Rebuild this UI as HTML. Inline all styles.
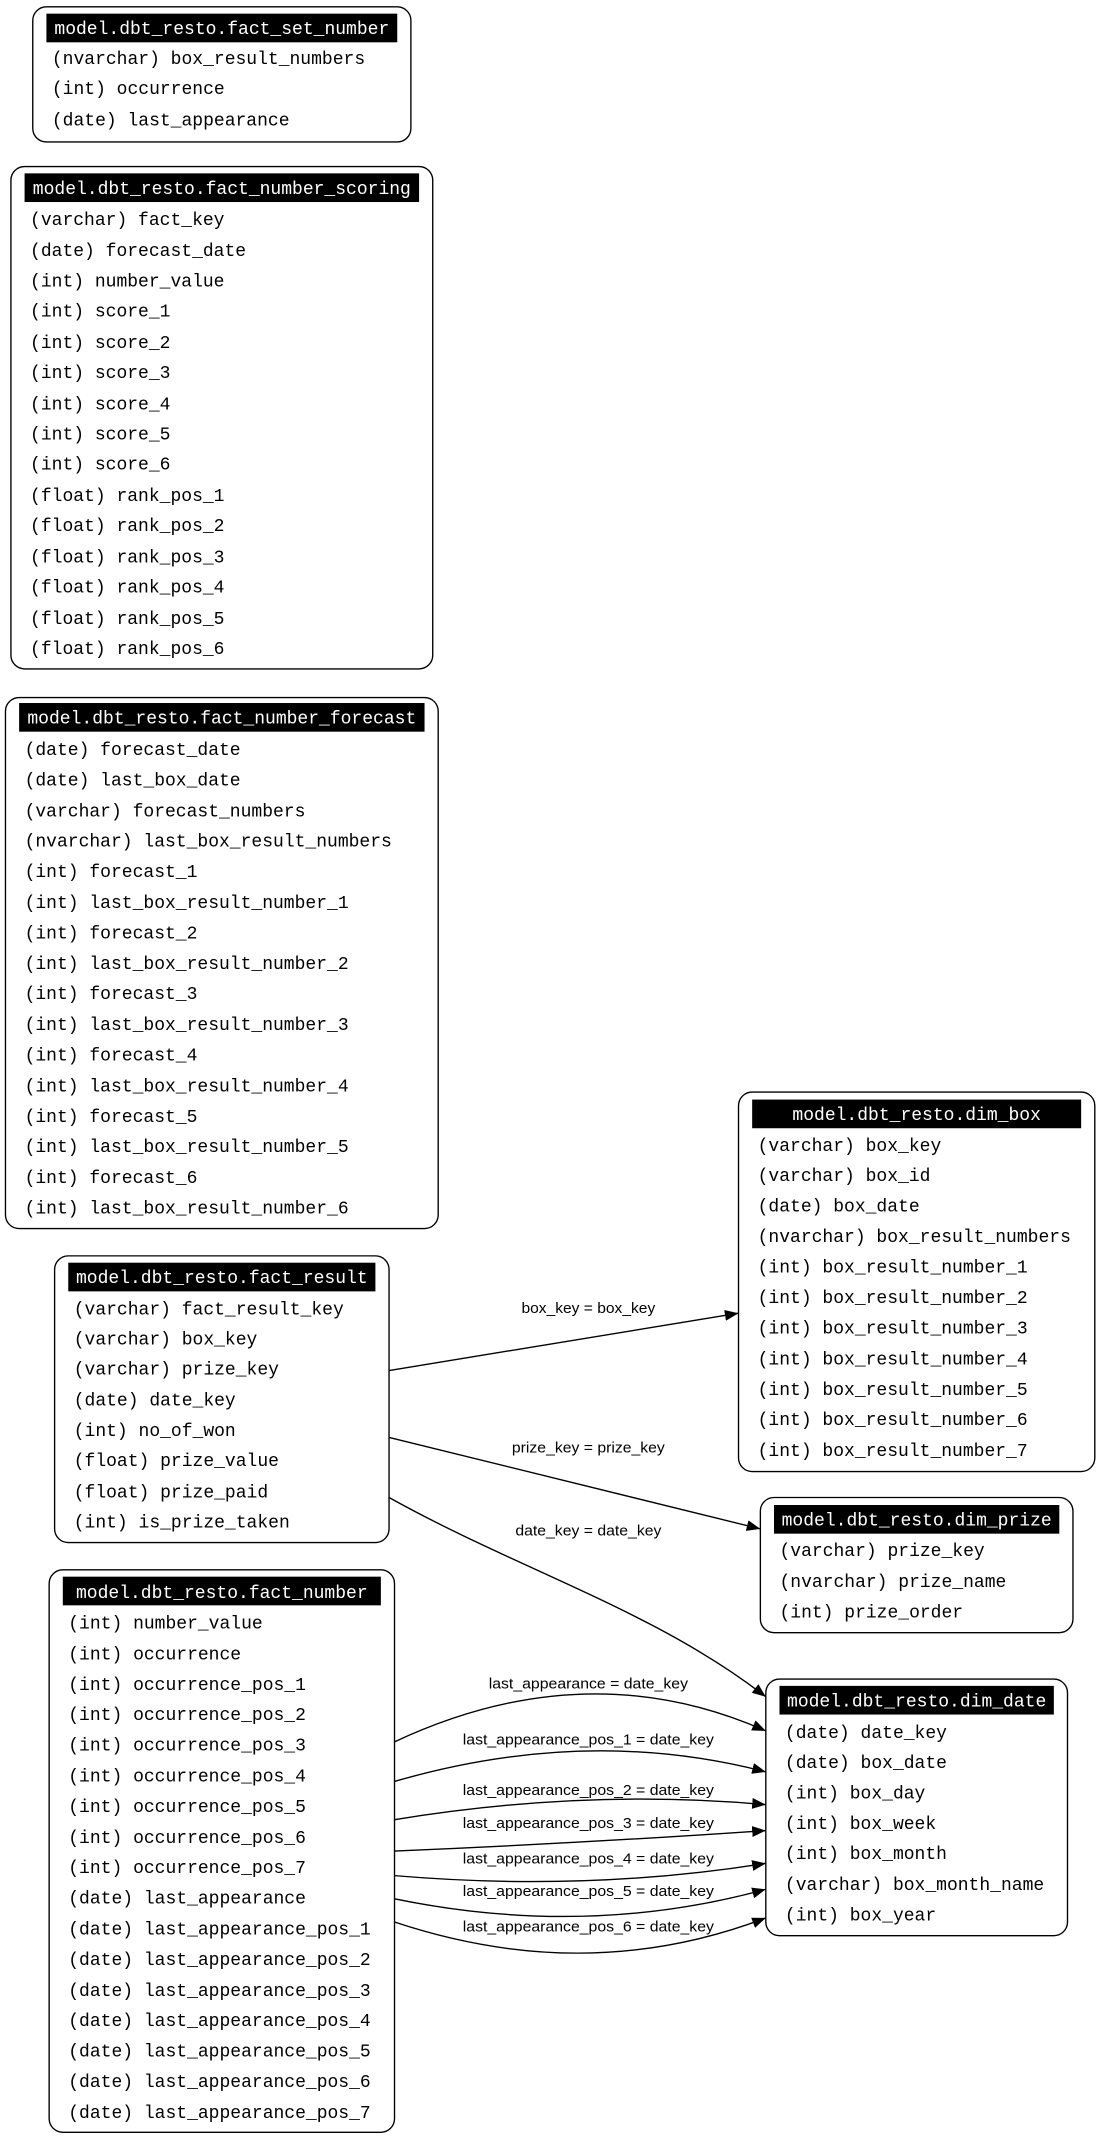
<!DOCTYPE html>
<html><head><meta charset="utf-8"><style>
html,body{margin:0;padding:0;background:#fff;}
svg{display:block;}
.f{font-family:"Liberation Mono",monospace;font-size:13.2px;fill:#000;}
.h{font-family:"Liberation Mono",monospace;font-size:13.2px;fill:#fff;text-anchor:middle;}
.l{font-family:"Liberation Sans",sans-serif;font-size:10.5px;fill:#000;text-anchor:middle;}
.b{fill:#fff;stroke:#000;stroke-width:1;}
.e{fill:none;stroke:#000;stroke-width:1;marker-end:url(#a);}
</style></head><body>
<svg width="1103" height="2144" viewBox="0 0 808 1570.6" xmlns="http://www.w3.org/2000/svg">
<defs><marker id="a" markerWidth="10" markerHeight="8" refX="10" refY="4" orient="auto" markerUnits="userSpaceOnUse"><path d="M0,0 L10,4 L0,8 Z" fill="#000"/></marker></defs>

<!-- fact_set_number -->
<rect class="b" x="24" y="5" width="277" height="99" rx="10"/>
<rect x="34" y="10" width="257" height="21" fill="#000"/>
<text class="h" x="162.5" y="25">model.dbt_resto.fact_set_number</text>
<text class="f" x="38" y="47">(nvarchar) box_result_numbers</text>
<text class="f" x="38" y="69">(int) occurrence</text>
<text class="f" x="38" y="92">(date) last_appearance</text>

<!-- fact_number_scoring -->
<rect class="b" x="8" y="122" width="309" height="368" rx="10"/>
<rect x="18" y="127" width="289" height="21" fill="#000"/>
<text class="h" x="162.5" y="142">model.dbt_resto.fact_number_scoring</text>
<text class="f" x="22" y="165">(varchar) fact_key</text>
<text class="f" x="22" y="187.5">(date) forecast_date</text>
<text class="f" x="22" y="210">(int) number_value</text>
<text class="f" x="22" y="232">(int) score_1</text>
<text class="f" x="22" y="255">(int) score_2</text>
<text class="f" x="22" y="277">(int) score_3</text>
<text class="f" x="22" y="300">(int) score_4</text>
<text class="f" x="22" y="322">(int) score_5</text>
<text class="f" x="22" y="344">(int) score_6</text>
<text class="f" x="22" y="367">(float) rank_pos_1</text>
<text class="f" x="22" y="389">(float) rank_pos_2</text>
<text class="f" x="22" y="412">(float) rank_pos_3</text>
<text class="f" x="22" y="434">(float) rank_pos_4</text>
<text class="f" x="22" y="457">(float) rank_pos_5</text>
<text class="f" x="22" y="479">(float) rank_pos_6</text>

<!-- fact_number_forecast -->
<rect class="b" x="4" y="511" width="317" height="389" rx="10"/>
<rect x="14" y="515" width="297" height="21" fill="#000"/>
<text class="h" x="162.5" y="530">model.dbt_resto.fact_number_forecast</text>
<text class="f" x="18" y="553">(date) forecast_date</text>
<text class="f" x="18" y="575.5">(date) last_box_date</text>
<text class="f" x="18" y="598">(varchar) forecast_numbers</text>
<text class="f" x="18" y="620">(nvarchar) last_box_result_numbers</text>
<text class="f" x="18" y="642.5">(int) forecast_1</text>
<text class="f" x="18" y="665">(int) last_box_result_number_1</text>
<text class="f" x="18" y="687.5">(int) forecast_2</text>
<text class="f" x="18" y="710">(int) last_box_result_number_2</text>
<text class="f" x="18" y="732">(int) forecast_3</text>
<text class="f" x="18" y="754.5">(int) last_box_result_number_3</text>
<text class="f" x="18" y="777">(int) forecast_4</text>
<text class="f" x="18" y="799.5">(int) last_box_result_number_4</text>
<text class="f" x="18" y="822">(int) forecast_5</text>
<text class="f" x="18" y="844">(int) last_box_result_number_5</text>
<text class="f" x="18" y="866.5">(int) forecast_6</text>
<text class="f" x="18" y="889">(int) last_box_result_number_6</text>

<!-- fact_result -->
<rect class="b" x="40" y="920" width="245" height="210" rx="10"/>
<rect x="50" y="925" width="225" height="21" fill="#000"/>
<text class="h" x="162.5" y="940">model.dbt_resto.fact_result</text>
<text class="f" x="54" y="963">(varchar) fact_result_key</text>
<text class="f" x="54" y="985">(varchar) box_key</text>
<text class="f" x="54" y="1007">(varchar) prize_key</text>
<text class="f" x="54" y="1029.5">(date) date_key</text>
<text class="f" x="54" y="1052">(int) no_of_won</text>
<text class="f" x="54" y="1074">(float) prize_value</text>
<text class="f" x="54" y="1097">(float) prize_paid</text>
<text class="f" x="54" y="1119">(int) is_prize_taken</text>

<!-- fact_number -->
<rect class="b" x="36" y="1150" width="253" height="412" rx="10"/>
<rect x="46" y="1155" width="233" height="21" fill="#000"/>
<text class="h" x="162.5" y="1170.5">model.dbt_resto.fact_number</text>
<text class="f" x="50" y="1193">(int) number_value</text>
<text class="f" x="50" y="1215.5">(int) occurrence</text>
<text class="f" x="50" y="1238">(int) occurrence_pos_1</text>
<text class="f" x="50" y="1260">(int) occurrence_pos_2</text>
<text class="f" x="50" y="1282.5">(int) occurrence_pos_3</text>
<text class="f" x="50" y="1305">(int) occurrence_pos_4</text>
<text class="f" x="50" y="1327.5">(int) occurrence_pos_5</text>
<text class="f" x="50" y="1350">(int) occurrence_pos_6</text>
<text class="f" x="50" y="1372">(int) occurrence_pos_7</text>
<text class="f" x="50" y="1394.5">(date) last_appearance</text>
<text class="f" x="50" y="1417">(date) last_appearance_pos_1</text>
<text class="f" x="50" y="1439.5">(date) last_appearance_pos_2</text>
<text class="f" x="50" y="1462">(date) last_appearance_pos_3</text>
<text class="f" x="50" y="1484">(date) last_appearance_pos_4</text>
<text class="f" x="50" y="1506.5">(date) last_appearance_pos_5</text>
<text class="f" x="50" y="1529">(date) last_appearance_pos_6</text>
<text class="f" x="50" y="1551.5">(date) last_appearance_pos_7</text>

<!-- dim_box -->
<rect class="b" x="541" y="800" width="261" height="278" rx="10"/>
<rect x="551" y="805.5" width="241" height="21" fill="#000"/>
<text class="h" x="671.5" y="820.5">model.dbt_resto.dim_box</text>
<text class="f" x="555" y="843">(varchar) box_key</text>
<text class="f" x="555" y="865">(varchar) box_id</text>
<text class="f" x="555" y="887.5">(date) box_date</text>
<text class="f" x="555" y="910">(nvarchar) box_result_numbers</text>
<text class="f" x="555" y="932">(int) box_result_number_1</text>
<text class="f" x="555" y="954.5">(int) box_result_number_2</text>
<text class="f" x="555" y="977">(int) box_result_number_3</text>
<text class="f" x="555" y="999.5">(int) box_result_number_4</text>
<text class="f" x="555" y="1022">(int) box_result_number_5</text>
<text class="f" x="555" y="1044">(int) box_result_number_6</text>
<text class="f" x="555" y="1066.5">(int) box_result_number_7</text>

<!-- dim_prize -->
<rect class="b" x="557" y="1097" width="229" height="99" rx="10"/>
<rect x="567" y="1102.5" width="209" height="21" fill="#000"/>
<text class="h" x="671.5" y="1117.5">model.dbt_resto.dim_prize</text>
<text class="f" x="571" y="1140">(varchar) prize_key</text>
<text class="f" x="571" y="1162.5">(nvarchar) prize_name</text>
<text class="f" x="571" y="1185">(int) prize_order</text>

<!-- dim_date -->
<rect class="b" x="561" y="1230" width="221" height="188" rx="10"/>
<rect x="571" y="1235" width="201" height="21" fill="#000"/>
<text class="h" x="671.5" y="1250">model.dbt_resto.dim_date</text>
<text class="f" x="575" y="1273">(date) date_key</text>
<text class="f" x="575" y="1295">(date) box_date</text>
<text class="f" x="575" y="1317.5">(int) box_day</text>
<text class="f" x="575" y="1340">(int) box_week</text>
<text class="f" x="575" y="1362">(int) box_month</text>
<text class="f" x="575" y="1384.5">(varchar) box_month_name</text>
<text class="f" x="575" y="1407">(int) box_year</text>

<!-- edges -->
<path class="e" d="M285,1004 L541,962"/>
<text class="l" x="431" y="962" textLength="98" lengthAdjust="spacingAndGlyphs">box_key = box_key</text>
<path class="e" d="M285,1053 L557,1120"/>
<text class="l" x="431" y="1064" textLength="112" lengthAdjust="spacingAndGlyphs">prize_key = prize_key</text>
<path class="e" d="M285,1097 C380,1150 480,1180 561,1243"/>
<text class="l" x="431" y="1125" textLength="107" lengthAdjust="spacingAndGlyphs">date_key = date_key</text>

<path class="e" d="M289,1276 Q430,1210 561,1268"/>
<text class="l" x="431" y="1237" textLength="146" lengthAdjust="spacingAndGlyphs">last_appearance = date_key</text>
<path class="e" d="M289,1305 Q430,1264 561,1298"/>
<text class="l" x="431" y="1278" textLength="184" lengthAdjust="spacingAndGlyphs">last_appearance_pos_1 = date_key</text>
<path class="e" d="M289,1333 Q430,1310 561,1322"/>
<text class="l" x="431" y="1315" textLength="184" lengthAdjust="spacingAndGlyphs">last_appearance_pos_2 = date_key</text>
<path class="e" d="M289,1356 Q430,1350 561,1341"/>
<text class="l" x="431" y="1339" textLength="184" lengthAdjust="spacingAndGlyphs">last_appearance_pos_3 = date_key</text>
<path class="e" d="M289,1374 Q430,1386 561,1365"/>
<text class="l" x="431" y="1365" textLength="184" lengthAdjust="spacingAndGlyphs">last_appearance_pos_4 = date_key</text>
<path class="e" d="M289,1391 Q430,1420 561,1384"/>
<text class="l" x="431" y="1389" textLength="184" lengthAdjust="spacingAndGlyphs">last_appearance_pos_5 = date_key</text>
<path class="e" d="M289,1408 Q430,1455 561,1405"/>
<text class="l" x="431" y="1415" textLength="184" lengthAdjust="spacingAndGlyphs">last_appearance_pos_6 = date_key</text>
</svg>
</body></html>
